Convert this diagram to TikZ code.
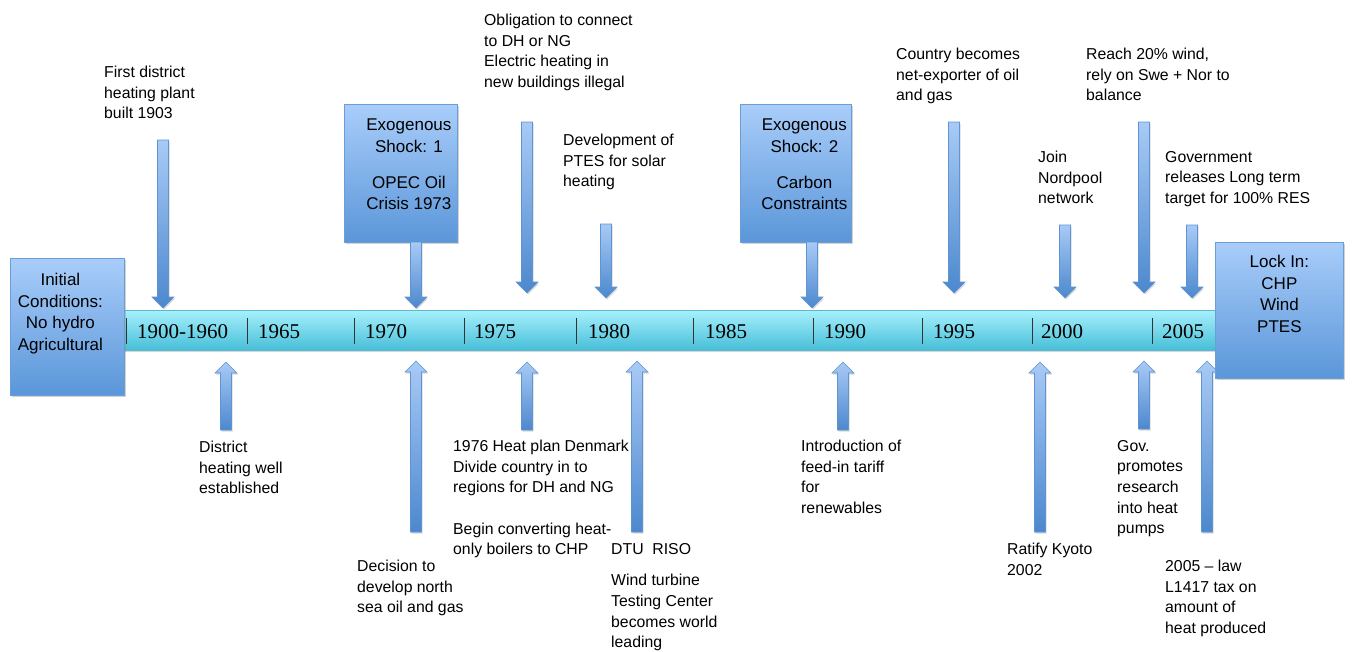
\documentclass[tikz,border=0pt]{standalone}
\usepackage{fontspec}
\setmainfont{Liberation Sans}
\newfontfamily\yearfont{Liberation Serif}
\usetikzlibrary{calc,shadows}
\definecolor{boxtop}{HTML}{A9CDFA}
\definecolor{boxbot}{HTML}{5A96D9}
\definecolor{boxline}{HTML}{6A9ED6}
\definecolor{bartop}{HTML}{A6F0FC}
\definecolor{barbot}{HTML}{46BED8}
\definecolor{barline}{HTML}{5AB8D0}
\definecolor{arrtop}{HTML}{A8CAF6}
\definecolor{arrbot}{HTML}{4C88CE}
\definecolor{arrline}{HTML}{5E94D2}
\newcommand\blockarrow[2]{%
 \path[barrow] let \p1=(#1), \p2=(#2), \n1={atan2(\y2-\y1,\x2-\x1)} in
  ($(\p1)+(\n1+90:5.5pt)$) -- ($(\p2)+(\n1+180:11pt)+(\n1+90:5.5pt)$)
  -- ($(\p2)+(\n1+180:11pt)+(\n1+90:11pt)$) -- (\p2)
  -- ($(\p2)+(\n1+180:11pt)+(\n1-90:11pt)$) -- ($(\p2)+(\n1+180:11pt)+(\n1-90:5.5pt)$)
  -- ($(\p1)+(\n1-90:5.5pt)$) -- cycle;}
\begin{document}
\begin{tikzpicture}[x=1pt,y=-1pt,
 note/.style={anchor=north west, inner sep=0pt, align=left, font=\fontsize{15.8}{20.6}\selectfont},
 year/.style={anchor=base west, inner sep=0pt, font=\yearfont\fontsize{21}{21}\selectfont},
 sepline/.style={draw=black!80, line width=0.9pt},
 bigbox/.style={draw=boxline, line width=0.8pt, top color=boxtop, bottom color=boxbot, inner sep=0pt, anchor=north west,
   drop shadow={opacity=0.35, shadow xshift=1.5pt, shadow yshift=-2pt}, font=\fontsize{17}{21.8}\selectfont},
 barrow/.style={draw=arrline, line width=0.6pt, top color=arrtop, bottom color=arrbot,
   drop shadow={opacity=0.3, shadow xshift=1pt, shadow yshift=-1.5pt}},
 barstyle/.style={draw=barline, line width=0.8pt, top color=bartop, bottom color=barbot, inner sep=0pt, anchor=north west,
   drop shadow={opacity=0.3, shadow xshift=0pt, shadow yshift=-2pt}},
]
\useasboundingbox (0,0) rectangle (1352,651);
\fill[white] (0,0) rectangle (1352,651);

% timeline bar
\node[barstyle, minimum width=1100pt, minimum height=40pt] (bar) at (118,310) {};
\foreach \sx in {126,247,354,464,576,693,813,922,1032,1152}
  \draw[sepline] (\sx,318) -- (\sx,344);
\node[year] (y1) at (137,338) {1900-1960};
\node[year] (y2) at (258,338) {1965};
\node[year] (y3) at (365,338) {1970};
\node[year] (y4) at (474,338) {1975};
\node[year] (y5) at (588,338) {1980};
\node[year] (y6) at (705,338) {1985};
\node[year] (y7) at (824,338) {1990};
\node[year] (y8) at (933,338) {1995};
\node[year] (y9) at (1041,338) {2000};
\node[year] (y10) at (1162,338) {2005};

% boxes
\node[bigbox] (init) at (10,258) {\parbox[c][137pt][t]{114pt}{\centering\rightskip=14pt plus 1fil\vspace*{14.5pt}Initial\\Conditions:\\No hydro\\Agricultural}};
\node[bigbox] (ex1) at (344,104) {\parbox[c][138pt][t]{113pt}{\centering\leftskip=16pt plus 1fil\vspace*{14.5pt}Exogenous\\Shock: 1\\[14pt]OPEC Oil\\Crisis 1973}};
\node[bigbox] (ex2) at (740,104) {\parbox[c][138pt][t]{111pt}{\centering\leftskip=17pt plus 1fil\vspace*{14.5pt}Exogenous\\Shock: 2\\[14pt]Carbon\\Constraints}};

% arrow end points (top, pointing down)
\coordinate (a1t) at (163,140);  \coordinate (a1h) at (163,308);
\coordinate (e1t) at (416,242);  \coordinate (e1h) at (416,308);
\coordinate (a2t) at (527,122);  \coordinate (a2h) at (527,293);
\coordinate (a3t) at (606,224);  \coordinate (a3h) at (606,298);
\coordinate (e2t) at (812,242);  \coordinate (e2h) at (812,308);
\coordinate (a4t) at (954,122);  \coordinate (a4h) at (954,293);
\coordinate (a5t) at (1065,225); \coordinate (a5h) at (1065,298);
\coordinate (a6t) at (1144,122); \coordinate (a6h) at (1144,293);
\coordinate (a7t) at (1192,225); \coordinate (a7h) at (1192,298);
% bottom, pointing up
\coordinate (b1t) at (226,430);  \coordinate (b1h) at (226,362);
\coordinate (b2t) at (416,532);  \coordinate (b2h) at (416,361);
\coordinate (b3t) at (527,430);  \coordinate (b3h) at (527,362);
\coordinate (b4t) at (637,532);  \coordinate (b4h) at (637,361);
\coordinate (b5t) at (843,430);  \coordinate (b5h) at (843,362);
\coordinate (b6t) at (1040,532); \coordinate (b6h) at (1040,362);
\coordinate (b7t) at (1144,429); \coordinate (b7h) at (1144,361);
\coordinate (b8t) at (1207,532); \coordinate (b8h) at (1207,361);

\blockarrow{a1t}{a1h}
\blockarrow{e1t}{e1h}
\blockarrow{a2t}{a2h}
\blockarrow{a3t}{a3h}
\blockarrow{e2t}{e2h}
\blockarrow{a4t}{a4h}
\blockarrow{a5t}{a5h}
\blockarrow{a6t}{a6h}
\blockarrow{a7t}{a7h}
\blockarrow{b1t}{b1h}
\blockarrow{b2t}{b2h}
\blockarrow{b3t}{b3h}
\blockarrow{b4t}{b4h}
\blockarrow{b5t}{b5h}
\blockarrow{b6t}{b6h}
\blockarrow{b7t}{b7h}
\blockarrow{b8t}{b8h}

\node[bigbox] (lock) at (1215,242) {\parbox[c][136pt][t]{128pt}{\centering\vspace*{12.5pt}Lock In:\\CHP\\Wind\\PTES}};

% annotations
\node[note] (n1) at (104,66) {First district\\heating plant\\built 1903};
\node[note] (n2) at (484,14) {Obligation to connect\\to DH or NG\\Electric heating in\\new buildings illegal};
\node[note] (n3) at (563,134) {Development of\\PTES for solar\\heating};
\node[note] (n4) at (896,48) {Country becomes\\net-exporter of oil\\and gas};
\node[note] (n5) at (1038,151) {Join\\Nordpool\\network};
\node[note] (n6) at (1086,48) {Reach 20\% wind,\\rely on Swe + Nor to\\balance};
\node[note] (n7) at (1165,151) {Government\\releases Long term\\target for 100\% RES};
\node[note] (n8) at (199,441) {District\\heating well\\established};
\node[note] (n9) at (453,440) {1976 Heat plan Denmark\\Divide country in to\\regions for DH and NG\\[20.6pt]Begin converting heat-\\only boilers to CHP};
\node[note] (n10) at (357,560) {Decision to\\develop north\\sea oil and gas};
\node[note] (n11) at (611,543) {DTU\ \ RISO\\[11pt]Wind turbine\\Testing Center\\becomes world\\leading};
\node[note] (n12) at (801,440) {Introduction of\\feed-in tariff\\for\\renewables};
\node[note] (n13) at (1007,543) {Ratify Kyoto\\2002};
\node[note] (n14) at (1117,440) {Gov.\\promotes\\research\\into heat\\pumps};
\node[note] (n15) at (1165,560) {2005 -- law\\L1417 tax on\\amount of\\heat produced};
\end{tikzpicture}
\end{document}
